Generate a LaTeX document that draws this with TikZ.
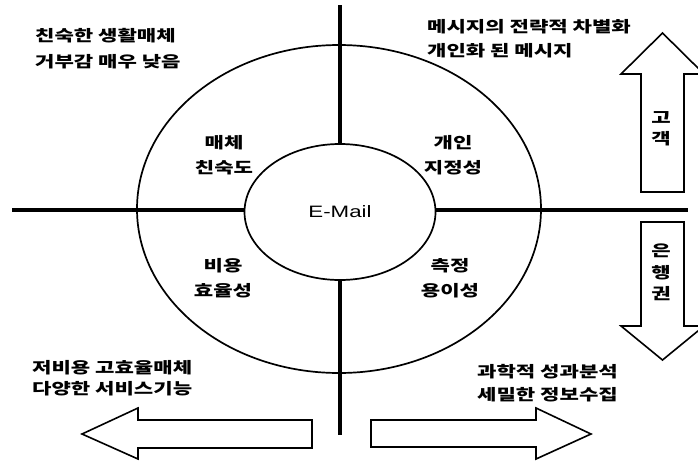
\documentclass[tikz,border=0pt]{standalone}
\usepackage{fontspec}
\usepackage{graphicx}
\usetikzlibrary{shapes.geometric}
\newfontfamily\kr{Noto Sans CJK KR}
\newfontfamily\lat{Liberation Sans}
\newcommand{\kwide}[1]{\scalebox{1.36}[1]{#1}}
\begin{document}
\begin{tikzpicture}[x=1pt,y=-1pt,
  txt/.style={font=\kr\bfseries\fontsize{15.5}{18}\selectfont, inner sep=0pt},
  ltxt/.style={txt, anchor=base west},
  ctxt/.style={txt, anchor=base},
  axis/.style={line width=3.4pt},
  ring/.style={draw, ellipse, line width=1.7pt},
  bigarrow/.style={draw, line width=1.6pt, fill=white, line join=miter}]
\useasboundingbox (0,0) rectangle (698,461);

% outer ellipse and inner ellipse
\node[ring, minimum width=404pt, minimum height=328pt] (outer) at (339,209) {};
\node[ring, minimum width=191pt, minimum height=136pt,
      font=\lat\fontsize{16.5}{18}\selectfont] (email) at (340,212) {\scalebox{1.35}[1]{E-Mail}};

% axes
\coordinate (vtop) at (340,5);
\coordinate (vbot) at (340,435);
\coordinate (hleft) at (12,210);
\coordinate (hright) at (688,210);
\draw[axis] (vtop) -- (email.north);
\draw[axis] (email.south) -- (vbot);
\draw[axis] (hleft) -- (email.west |- hleft);
\draw[axis] (email.east |- hright) -- (hright);

% corner texts
\node[ltxt] (tl1) at (35,41) {\kwide{친숙한 생활매체}};
\node[ltxt] (tl2) at (35,67) {\kwide{거부감 매우 낮음}};
\node[ltxt] (tr1) at (427,32) {\kwide{메시지의 전략적 차별화}};
\node[ltxt] (tr2) at (427,56) {\kwide{개인화 된 메시지}};
\node[ltxt] (bl1) at (32,373) {\kwide{저비용 고효율매체}};
\node[ltxt] (bl2) at (32,394) {\kwide{다양한 서비스기능}};
\node[ltxt] (br1) at (477,377) {\kwide{과학적 성과분석}};
\node[ltxt] (br2) at (477,400) {\kwide{세밀한 정보수집}};

% quadrant labels
\node[ctxt] (q1a) at (224,148) {\kwide{매체}};
\node[ctxt] (q1b) at (224,173) {\kwide{친숙도}};
\node[ctxt] (q2a) at (453,148) {\kwide{개인}};
\node[ctxt] (q2b) at (453,173) {\kwide{지정성}};
\node[ctxt] (q3a) at (223,271) {\kwide{비용}};
\node[ctxt] (q3b) at (223,296) {\kwide{효율성}};
\node[ctxt] (q4a) at (450,271) {\kwide{측정}};
\node[ctxt] (q4b) at (450,296) {\kwide{용이성}};

% block arrows
\draw[bigarrow] (641,192) -- (641,74) -- (621,74) -- (662.5,33) -- (704,74) -- (684,74) -- (684,192) -- cycle;
\draw[bigarrow] (641,222) -- (641,326) -- (621,326) -- (662.5,360) -- (704,326) -- (684,326) -- (684,222) -- cycle;
\draw[bigarrow] (312,420) -- (138,420) -- (138,408) -- (82,434) -- (138,459) -- (138,448) -- (312,448) -- cycle;
\draw[bigarrow] (371,420) -- (536,420) -- (536,408) -- (591,434) -- (536,459) -- (536,447) -- (371,447) -- cycle;

% arrow labels
\node[ctxt] (c1) at (661,123) {\kwide{고}};
\node[ctxt] (c2) at (661,144) {\kwide{객}};
\node[ctxt] (b1) at (661,256) {\kwide{은}};
\node[ctxt] (b2) at (661,278) {\kwide{행}};
\node[ctxt] (b3) at (661,299) {\kwide{권}};
\end{tikzpicture}
\end{document}
